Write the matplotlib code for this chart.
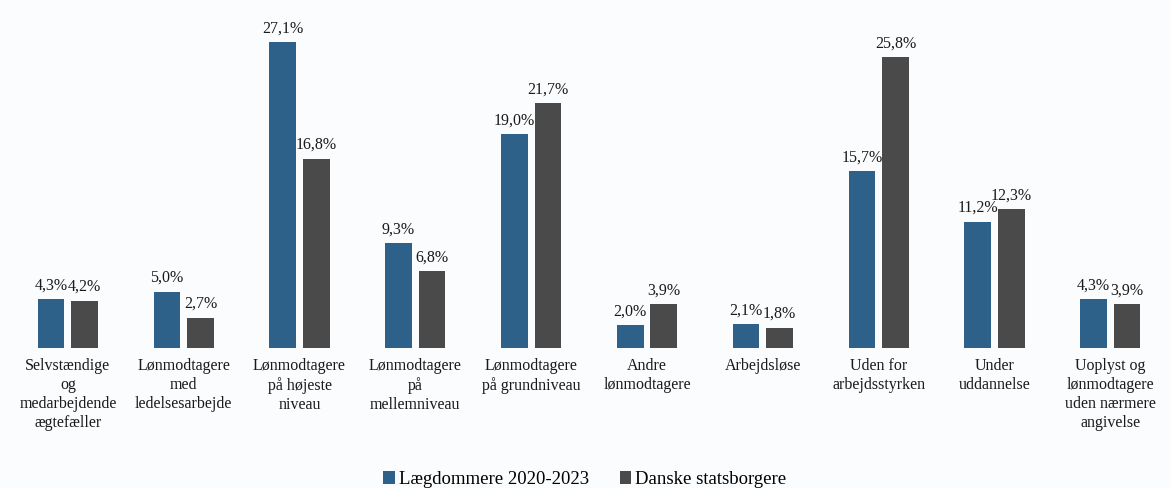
import matplotlib
matplotlib.use("Agg")
import matplotlib.pyplot as plt
import numpy as np

categories = [
    "Selvstændige\nog\nmedarbejdende\nægtefæller",
    "Lønmodtagere\nmed\nledelsesarbejde",
    "Lønmodtagere\npå højeste\nniveau",
    "Lønmodtagere\npå\nmellemniveau",
    "Lønmodtagere\npå grundniveau",
    "Andre\nlønmodtagere",
    "Arbejdsløse",
    "Uden for\narbejdsstyrken",
    "Under\nuddannelse",
    "Uoplyst og\nlønmodtagere\nuden nærmere\nangivelse",
]
laegdommere = [4.3, 5.0, 27.1, 9.3, 19.0, 2.0, 2.1, 15.7, 11.2, 4.3]
danske = [4.2, 2.7, 16.8, 6.8, 21.7, 3.9, 1.8, 25.8, 12.3, 3.9]
series_names = ["Lægdommere 2020-2023", "Danske statsborgere"]

plt.rcParams['font.family'] = ['Liberation Serif', 'DejaVu Serif']

fig = plt.figure(figsize=(11.7, 4.88), dpi=100)
fig.patch.set_facecolor('#fafcfd')
ax = fig.add_axes([0.0085, 0.287, 0.99, 0.693])
ax.set_facecolor('#fafcfd')

x = np.arange(len(categories))
w = 0.23
off = 0.145
b1 = ax.bar(x - off, laegdommere, w, color='#2d6189', label=series_names[0])
b2 = ax.bar(x + off, danske, w, color='#4a4a4a', label=series_names[1])

def fmt(v):
    return f"{v:.1f}".replace(".", ",") + "%"

for bars, vals in ((b1, laegdommere), (b2, danske)):
    for r, v in zip(bars, vals):
        ax.annotate(fmt(v), (r.get_x() + r.get_width() / 2, r.get_height()),
                    xytext=(0, 4), textcoords='offset points',
                    ha='center', va='bottom', fontsize=11.5, color='#1a1a1a')

ax.set_xlim(-0.5, len(categories) - 0.5)
ax.set_ylim(0, 30)
ax.set_xticks(x)
ax.set_xticklabels(categories, fontsize=11.5, color='#1a1a1a', linespacing=1.25)
ax.tick_params(axis='x', length=0, pad=7)
ax.set_yticks([])
for s in ax.spines.values():
    s.set_visible(False)
ax.axhline(0, color='#e6e6e6', lw=0.8, zorder=0)

fig.legend(handles=[b1, b2], labels=series_names, loc='lower center',
           bbox_to_anchor=(0.5, -0.035), ncol=2, frameon=False,
           fontsize=13.5, handlelength=0.6, handleheight=0.7,
           handletextpad=0.25, columnspacing=1.6)

fig.savefig("out.png", dpi=100, facecolor=fig.get_facecolor())
